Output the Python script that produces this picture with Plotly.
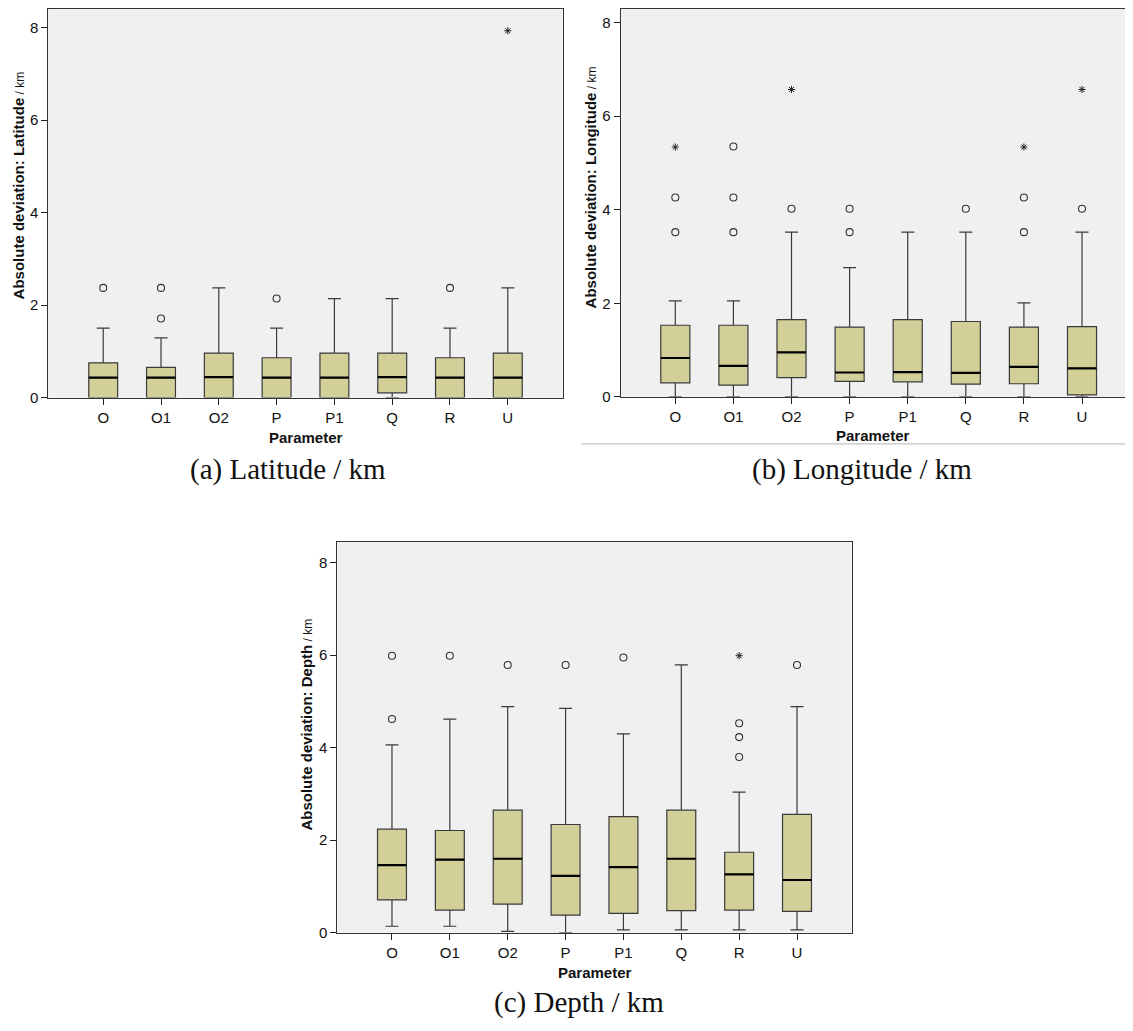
import plotly.graph_objects as go

# The page body has an 8px default margin on every side; the figure is sized
# so that figure + margins fit the 1133x1031 window exactly.
OFF = 8
W, H = 1133 - 2 * OFF, 1031 - 2 * OFF

categories = ["O", "O1", "O2", "P", "P1", "Q", "R", "U"]

# (a) Latitude
lat_q1 = [0.0, 0.0, 0.0, 0.0, 0.0, 0.10, 0.0, 0.0]
lat_med = [0.43, 0.43, 0.44, 0.43, 0.43, 0.44, 0.43, 0.43]
lat_q3 = [0.75, 0.65, 0.96, 0.86, 0.96, 0.96, 0.86, 0.96]
lat_lo = [0.0, 0.0, 0.0, 0.0, 0.0, 0.0, 0.0, 0.0]
lat_hi = [1.50, 1.29, 2.37, 1.50, 2.14, 2.14, 1.50, 2.37]
lat_out_cat = ["O", "O1", "O1", "P", "R"]
lat_out_val = [2.37, 2.37, 1.71, 2.14, 2.37]
lat_ext_cat = ["U"]
lat_ext_val = [7.93]

# (b) Longitude
lon_q1 = [0.30, 0.25, 0.41, 0.33, 0.32, 0.27, 0.28, 0.04]
lon_med = [0.83, 0.66, 0.95, 0.52, 0.53, 0.51, 0.64, 0.61]
lon_q3 = [1.53, 1.53, 1.65, 1.49, 1.65, 1.61, 1.49, 1.50]
lon_lo = [0.0, 0.0, 0.0, 0.0, 0.0, 0.0, 0.0, 0.0]
lon_hi = [2.05, 2.05, 3.52, 2.76, 3.52, 3.52, 2.01, 3.52]
lon_out_cat = ["O", "O", "O1", "O1", "O1", "O2", "P", "P", "Q", "R", "R", "U"]
lon_out_val = [3.52, 4.26, 3.52, 4.26, 5.35, 4.02, 3.52, 4.02, 4.02, 3.52, 4.26, 4.02]
lon_ext_cat = ["O", "O2", "R", "U"]
lon_ext_val = [5.34, 6.57, 5.34, 6.57]

# (c) Depth
dep_q1 = [0.71, 0.49, 0.62, 0.38, 0.42, 0.48, 0.49, 0.46]
dep_med = [1.46, 1.58, 1.60, 1.23, 1.42, 1.60, 1.26, 1.14]
dep_q3 = [2.24, 2.21, 2.65, 2.34, 2.51, 2.65, 1.74, 2.56]
dep_lo = [0.14, 0.14, 0.03, 0.0, 0.06, 0.06, 0.06, 0.06]
dep_hi = [4.06, 4.62, 4.89, 4.85, 4.30, 5.79, 3.04, 4.89]
dep_out_cat = ["O", "O", "O1", "O2", "P", "P1", "R", "R", "R", "U"]
dep_out_val = [4.62, 5.99, 5.99, 5.79, 5.79, 5.95, 3.80, 4.23, 4.53, 5.79]
dep_ext_cat = ["R"]
dep_ext_val = [5.99]

y_ticks = [0, 2, 4, 6, 8]

BOX_FILL = "#d3cf98"
BOX_LINE = "#3a3a3a"
BOX_W = 0.5
idx = {c: i for i, c in enumerate(categories)}

fig = go.Figure()


def add_panel(n, q1, med, q3, lo, hi, oc, ov, ec, ev):
    xa = "x" if n == 1 else f"x{n}"
    ya = "y" if n == 1 else f"y{n}"
    xs = list(range(len(categories)))
    fig.add_trace(go.Box(
        x=xs, q1=q1, median=med, q3=q3, lowerfence=lo, upperfence=hi,
        width=BOX_W, whiskerwidth=0.45, boxpoints=False,
        fillcolor=BOX_FILL, line=dict(color=BOX_LINE, width=1.2),
        xaxis=xa, yaxis=ya, showlegend=False, hoverinfo="skip"))
    mx, my = [], []
    for i, m in enumerate(med):
        mx += [i - BOX_W / 2, i + BOX_W / 2, None]
        my += [m, m, None]
    fig.add_trace(go.Scatter(x=mx, y=my, mode="lines",
                             line=dict(color="black", width=2.2),
                             xaxis=xa, yaxis=ya, showlegend=False,
                             hoverinfo="skip"))
    fig.add_trace(go.Scatter(x=[idx[c] for c in oc], y=ov, mode="markers",
                             marker=dict(symbol="circle-open", size=7,
                                         color="#333333",
                                         line=dict(width=1.1, color="#333333")),
                             xaxis=xa, yaxis=ya, showlegend=False,
                             hoverinfo="skip"))
    fig.add_trace(go.Scatter(x=[idx[c] for c in ec], y=ev, mode="markers",
                             marker=dict(symbol="asterisk-open", size=6,
                                         color="#222222",
                                         line=dict(width=1, color="#222222")),
                             xaxis=xa, yaxis=ya, showlegend=False,
                             hoverinfo="skip"))


add_panel(1, lat_q1, lat_med, lat_q3, lat_lo, lat_hi,
          lat_out_cat, lat_out_val, lat_ext_cat, lat_ext_val)
add_panel(2, lon_q1, lon_med, lon_q3, lon_lo, lon_hi,
          lon_out_cat, lon_out_val, lon_ext_cat, lon_ext_val)
add_panel(3, dep_q1, dep_med, dep_q3, dep_lo, dep_hi,
          dep_out_cat, dep_out_val, dep_ext_cat, dep_ext_val)

tickfont = dict(family="Liberation Sans, Arial, sans-serif", size=15,
                color="#111111")


def xaxis(dom, rng, anchor):
    return dict(domain=dom, range=rng, anchor=anchor,
                tickmode="array", tickvals=list(range(len(categories))),
                ticktext=categories, ticks="outside", ticklen=6,
                tickcolor="#222222", showgrid=False, zeroline=False,
                showline=True, mirror=True, linecolor="#333333",
                linewidth=1, tickfont=tickfont, fixedrange=True)


def yaxis(dom, rng, anchor, mirror=True):
    return dict(domain=dom, range=rng, anchor=anchor,
                tickmode="array", tickvals=y_ticks,
                ticks="outside", ticklen=6, tickcolor="#222222",
                showgrid=False, zeroline=False, showline=True, mirror=mirror,
                linecolor="#333333", linewidth=1, tickfont=tickfont,
                fixedrange=True)


def px_x(p):
    return max(0.0, min(1.0, (p - OFF) / W))


def px_y(p):
    return max(0.0, min(1.0, 1 - (p - OFF) / H))


# panel pixel boxes in window coordinates: left, right, top, bottom
pa = (48.3, 562.7, 8.0, 400.0)
pb = (620.7, 1125.0, 8.0, 399.3)
pc = (337.3, 851.7, 545.7, 940.0)

fig.update_layout(
    width=W, height=H, margin=dict(l=0, r=0, t=0, b=0),
    paper_bgcolor="white", plot_bgcolor="#f0f0f0",
    xaxis=xaxis([px_x(pa[0]), px_x(pa[1])], [-0.95, 7.95], "y"),
    yaxis=yaxis([px_y(pa[3]), px_y(pa[2])], [0, 8.40], "x"),
    xaxis2=xaxis([px_x(pb[0]), px_x(pb[1])], [-0.94, 7.74], "y2"),
    yaxis2=yaxis([px_y(pb[3]), px_y(pb[2])], [0, 8.29], "x2", mirror=False),
    xaxis3=xaxis([px_x(pc[0]), px_x(pc[1])], [-0.945, 7.945], "y3"),
    yaxis3=yaxis([px_y(pc[3]), px_y(pc[2])], [0, 8.45], "x3"),
)

title_font = dict(family="Liberation Sans, Arial, sans-serif", size=15,
                  color="#111111")
cap_font = dict(family="Liberation Serif, Times New Roman, serif", size=29,
                color="#111111")

ann = []


def ytitle(name, x, y):
    ann.append(dict(
        text=f"<b>Absolute deviation: {name}</b>"
             f"<span style='font-size:12px'> / km</span>",
        x=px_x(x), y=px_y(y), xref="paper", yref="paper",
        textangle=-90, showarrow=False, font=title_font,
        xanchor="center", yanchor="middle"))


def xtitle(x, y):
    ann.append(dict(text="<b>Parameter</b>", x=px_x(x), y=px_y(y),
                    xref="paper", yref="paper", showarrow=False,
                    font=title_font, xanchor="center", yanchor="middle"))


def caption(t, x, y):
    ann.append(dict(text=t, x=px_x(x), y=px_y(y), xref="paper",
                    yref="paper", showarrow=False, font=cap_font,
                    xanchor="center", yanchor="middle"))


ytitle("Latitude", 18, 186)
ytitle("Longitude", 590, 188)
ytitle("Depth", 307, 730)
xtitle(305.5, 440)
xtitle(873, 438)
xtitle(594.5, 980)
caption("(a) Latitude / km", 288, 473)
caption("(b) Longitude / km", 862, 473)
caption("(c) Depth / km", 579, 1010)

fig.update_layout(annotations=ann, shapes=[dict(
    type="line", xref="paper", yref="paper",
    x0=px_x(581.7), x1=1.0, y0=px_y(446.7), y1=px_y(446.7),
    line=dict(color="#c4c4c4", width=1.2))])

fig.write_html("out.html")
